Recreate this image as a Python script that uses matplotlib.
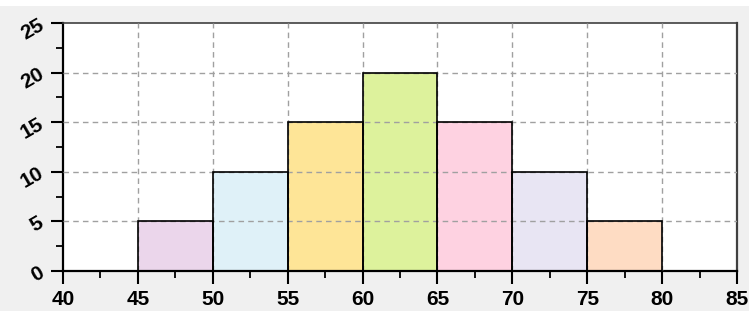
import matplotlib
matplotlib.use("Agg")
import matplotlib.pyplot as plt
from matplotlib.ticker import MultipleLocator

bin_edges = [45, 50, 55, 60, 65, 70, 75, 80]
counts = [5, 10, 15, 20, 15, 10, 5]
colors = ["#ebd6eb", "#dff1f8", "#fee597", "#ddf29c", "#fed2e1", "#e8e5f3", "#fedcc3"]
x_ticks = [40, 45, 50, 55, 60, 65, 70, 75, 80, 85]
y_ticks = [0, 5, 10, 15, 20, 25]

plt.rcParams['font.family'] = ['Liberation Sans', 'DejaVu Sans']

fig = plt.figure(figsize=(7.49, 3.11), dpi=100, facecolor="#f0f0f0")
ax = fig.add_axes([0.0841, 0.1286, 0.8999, 0.797])
ax.set_facecolor("white")

lefts = bin_edges[:-1]
widths = [b - a for a, b in zip(bin_edges[:-1], bin_edges[1:])]
ax.bar(lefts, counts, width=widths, align="edge", color=colors,
       edgecolor="none", linewidth=0, zorder=2)
ax.bar(lefts, counts, width=widths, align="edge", color="none",
       edgecolor="black", linewidth=1.2, zorder=4)

ax.set_xlim(40, 85)
ax.set_ylim(0, 25)
ax.set_xticks(x_ticks)
ax.set_yticks(y_ticks)
ax.xaxis.set_minor_locator(MultipleLocator(2.5))
ax.yaxis.set_minor_locator(MultipleLocator(2.5))

for xv in x_ticks[1:-1]:
    ax.axvline(xv, color="#a0a0a0", linestyle=(0, (4, 3)), linewidth=1.0, zorder=3)
for yv in y_ticks[1:-1]:
    ax.axhline(yv, color="#a0a0a0", linestyle=(0, (4, 3)), linewidth=1.0, zorder=3)

ax.tick_params(axis="both", which="major", direction="out", length=9, width=1.5,
               labelsize=15, color="black")
ax.tick_params(axis="both", which="minor", direction="out", length=5, width=1.3,
               color="black")
ax.tick_params(axis="x", pad=5)
ax.tick_params(axis="y", pad=6)

for lab in ax.get_xticklabels():
    lab.set_fontweight("bold")
for lab in ax.get_yticklabels():
    lab.set_fontweight("bold")
    lab.set_rotation(30)
    lab.set_rotation_mode("anchor")
    lab.set_ha("right")
    lab.set_va("center")

for s in ["left", "bottom"]:
    ax.spines[s].set_linewidth(1.6)
    ax.spines[s].set_color("black")
ax.spines["top"].set_linewidth(1.2)
ax.spines["top"].set_color("#404040")
ax.spines["right"].set_linewidth(1.6)
ax.spines["right"].set_color("#404040")

fig.patches.append(plt.Rectangle((0, 1 - 6/311), 1, 6/311, transform=fig.transFigure,
                                 facecolor="white", edgecolor="none", zorder=0))

fig.savefig("out.png", dpi=100, facecolor=fig.get_facecolor())
